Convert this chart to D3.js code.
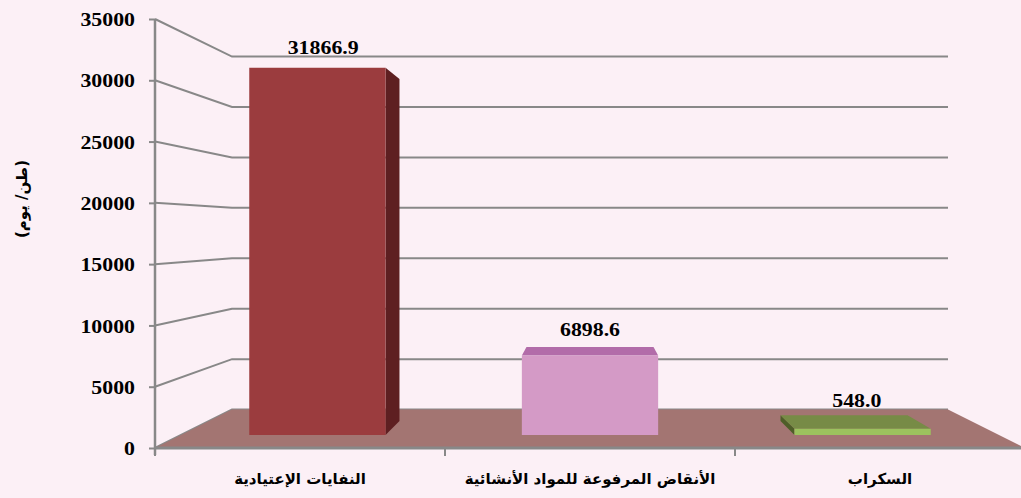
<!DOCTYPE html>
<meta charset="utf-8">
<title>Waste chart</title>
<style>
body {
  margin: 0;
  background: #fcf0f6;
}
svg {
  display: block;
  font-family: "Liberation Serif", "Times New Roman", serif;
}
.num {
  font-family: "Liberation Serif", "Times New Roman", serif;
  font-weight: bold;
  font-size: 19px;
  fill: #000;
}
.cat {
  font-family: "DejaVu Sans", sans-serif;
  font-weight: bold;
  font-size: 15px;
}
.grid {
  fill: none;
  stroke: #888;
  stroke-width: 2px;
}
</style>
<body>
<script src="https://cdn.jsdelivr.net/npm/d3@7"></script>
<script>

var categories = ["النفايات الإعتيادية", "الأنقاض المرفوعة للمواد الأنشائية", "السكراب"];
var values = [31866.9, 6898.6, 548.0];
var valueLabels = ["31866.9", "6898.6", "548.0"];
var yTicks = [0, 5000, 10000, 15000, 20000, 25000, 30000, 35000];
var yTitle = "(طن/ يوم)";

// front face / side / top colours per bar
var frontColors = ["#9b3c3e", "#d49ac6", "#9cc25e"];
var sideColors = ["#5e1f21", "#a0609a", "#4e5e28"];
var topColors = ["#7a2a2c", "#b26ca9", "#778b46"];

var width = 1021,
    height = 498;

// simple perspective: every point is pulled toward a vanishing point
var vx = 590, vy = 231;
var kBack = 0.823,     // back wall
    kBarFront = 0.94,  // front face of bars
    kBarBack = 0.876,  // back face of bars
    kLabel = 0.92;

function proj(x, y, k) {
  return [vx + k * (x - vx), vy + k * (y - vy)];
}

var x = d3.scaleBand()
    .domain(categories)
    .range([155, 1025])
    .paddingInner(0.5)
    .paddingOuter(0.25);

var y = d3.scaleLinear()
    .domain([0, 35000])
    .range([448, 19]);

var svg = d3.select("body").append("svg")
    .attr("width", width)
    .attr("height", height);

var x0 = x.range()[0], x1 = x.range()[1];

// gridlines: front axis -> back wall -> across
svg.append("g").selectAll("polyline")
    .data(yTicks)
  .enter().append("polyline")
    .attr("class", "grid")
    .attr("points", function(v) {
      var a = [x0, y(v)], b = proj(x0, y(v), kBack), c = proj(x1, y(v), kBack);
      return [a, b, c].map(function(p) { return p.join(","); }).join(" ");
    });

// floor
var floorPts = [[x0, y(0)], proj(x0, y(0), kBack), proj(x1, y(0), kBack), [x1, y(0)]];
svg.append("path")
    .attr("d", "M" + floorPts.join("L") + "Z")
    .attr("fill", "#a37572");

// x axis line and category boundary ticks
var step = x.step();
svg.append("line")
    .attr("x1", x0).attr("x2", x1)
    .attr("y1", y(0)).attr("y2", y(0))
    .attr("stroke", "#888").attr("stroke-width", 3);

svg.append("g").selectAll("line")
    .data(d3.range(categories.length + 1))
  .enter().append("line")
    .attr("x1", function(i) { return x0 + i * step; })
    .attr("x2", function(i) { return x0 + i * step; })
    .attr("y1", y(0))
    .attr("y2", y(0) + 8)
    .attr("stroke", "#888").attr("stroke-width", 2);

// y axis
var yAxis = svg.append("g")
    .attr("transform", "translate(" + x0 + ",0)")
    .call(d3.axisLeft(y).tickValues(yTicks).tickFormat(d3.format("d")).tickSize(6).tickPadding(14));
yAxis.attr("font-family", null).attr("font-size", null);
yAxis.select(".domain").attr("stroke", "#888").attr("stroke-width", 2.5)
    .attr("d", "M0," + y(35000) + "V" + (y(0) + 7));
yAxis.selectAll(".tick line").attr("stroke", "#888").attr("stroke-width", 2);
yAxis.selectAll(".tick text")
    .attr("class", "num")
    .attr("dy", "0.35em")
    .attr("transform", "scale(1.15,1)")
    .attr("x", -(14 + 6) / 1.15);

// bars
function poly(pts, fill) {
  svg.append("path")
      .attr("d", "M" + pts.join("L") + "Z")
      .attr("fill", fill);
}

categories.forEach(function(c, i) {
  var l = x(c), r = x(c) + x.bandwidth(),
      t = y(values[i]), b = y(0);
  var fl = proj(l, t, kBarFront), fr = proj(r, t, kBarFront),
      flb = proj(l, b, kBarFront), frb = proj(r, b, kBarFront),
      bl = proj(l, t, kBarBack), br = proj(r, t, kBarBack),
      blb = proj(l, b, kBarBack), brb = proj(r, b, kBarBack);

  // visible side
  if (r < vx) poly([fr, br, brb, frb], sideColors[i]);
  if (l > vx) poly([fl, bl, blb, flb], sideColors[i]);
  // visible top
  if (t > vy) poly([fl, fr, br, bl], topColors[i]);
  // front face
  poly([fl, fr, frb, flb], frontColors[i]);

  var lp = proj(l + x.bandwidth() / 2, t, kLabel);
  svg.append("text")
      .attr("class", "num")
      .attr("text-anchor", "middle")
      .attr("transform", "translate(" + lp[0] + "," + (lp[1] - 17) + ") scale(1.15,1)")
      .text(valueLabels[i]);
});

// category labels
svg.append("g").selectAll("text")
    .data(categories)
  .enter().append("text")
    .attr("class", "cat")
    .attr("text-anchor", "middle")
    .attr("x", function(d) { return x(d) + x.bandwidth() / 2; })
    .attr("y", 484)
    .text(function(d) { return d; });

// y title
svg.append("text")
    .attr("class", "cat")
    .attr("text-anchor", "middle")
    .attr("transform", "translate(27,199) rotate(-90)")
    .text(yTitle);

</script>
</body>
